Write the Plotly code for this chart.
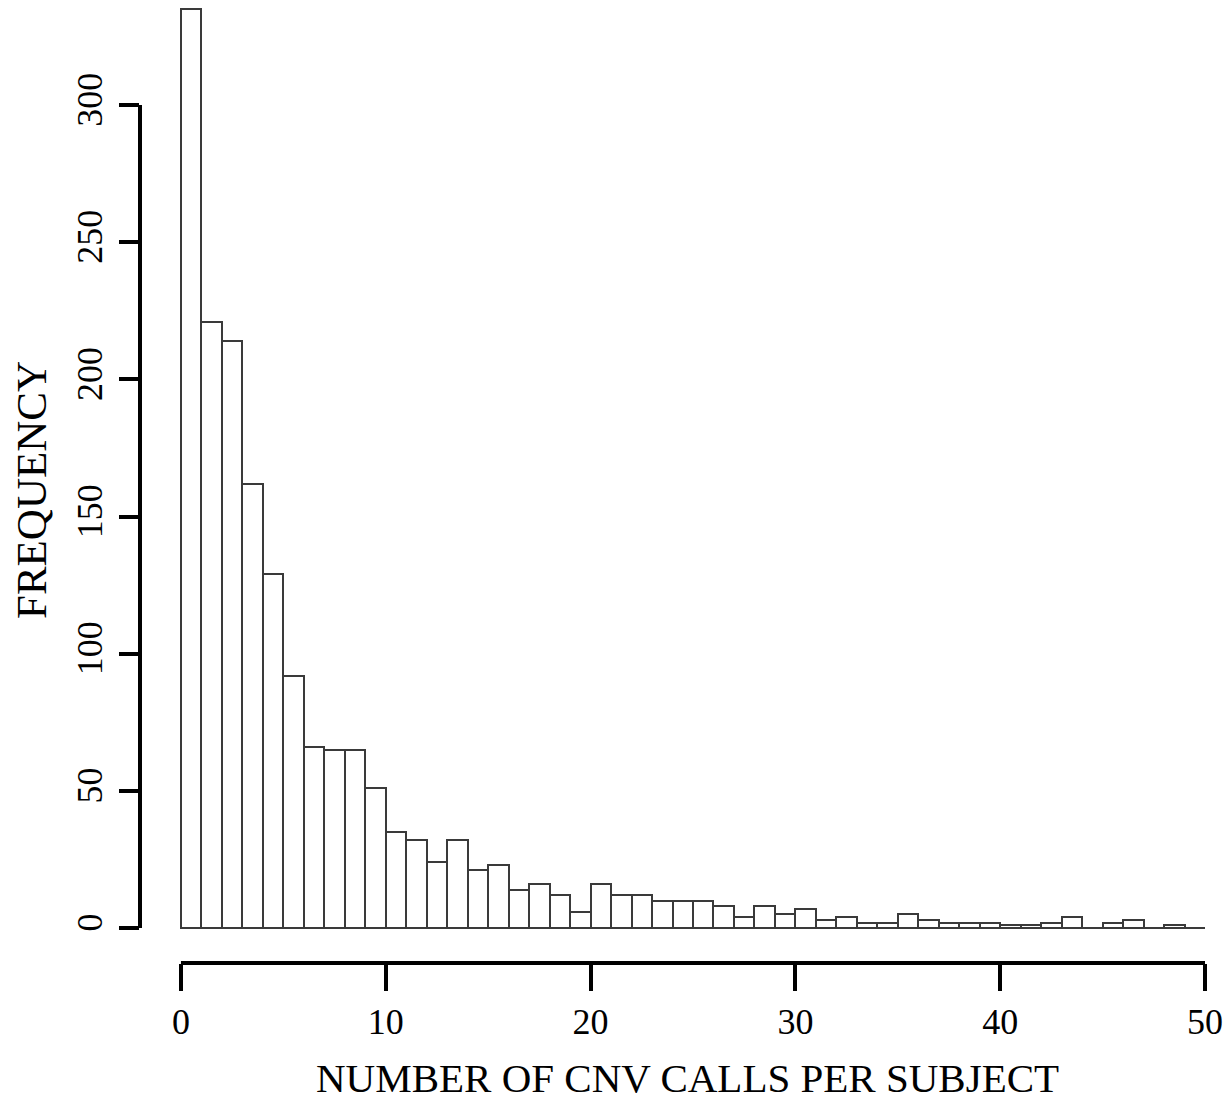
import plotly.graph_objects as go

# Histogram: number of CNV calls per subject (bins of width 1, from 0 to 50)
bin_starts = list(range(50))
counts = [335, 221, 214, 162, 129, 92, 66, 65, 65, 51,
          35, 32, 24, 32, 21, 23, 14, 16, 12, 6,
          16, 12, 12, 10, 10, 10, 8, 4, 8, 5,
          7, 3, 4, 2, 2, 5, 3, 2, 2, 2,
          1, 1, 2, 4, 0, 2, 3, 0, 1, 0]
x_ticks = [0, 10, 20, 30, 40, 50]
y_ticks = [0, 50, 100, 150, 200, 250, 300]

FONT = "Liberation Serif"

fig = go.Figure()
fig.add_trace(go.Bar(
    x=bin_starts, y=counts, width=1, offset=0,
    marker=dict(color="white", line=dict(color="#3a3a3a", width=2)),
    cliponaxis=False,
    hoverinfo="x+y", showlegend=False,
))

# zero line along the bottom of the bars
fig.add_shape(type="line", xref="x", yref="y", x0=0, x1=50.5, y0=0, y1=0,
              line=dict(color="#777777", width=2), layer="below")
# y axis line (only spanning 0..300)
fig.add_shape(type="line", xref="paper", yref="y", x0=0, x1=0, y0=0, y1=300,
              line=dict(color="black", width=4))
# x axis line (only spanning 0..50)
fig.add_shape(type="line", xref="x", yref="paper", x0=0, x1=50, y0=0, y1=0,
              line=dict(color="black", width=4))

fig.update_layout(
    width=1224, height=1093,
    margin=dict(l=132, r=27, t=0, b=138),
    plot_bgcolor="white", paper_bgcolor="white",
    bargap=0,
    font=dict(family=FONT, color="black"),
    xaxis=dict(range=[-2, 50], tickmode="array", tickvals=x_ticks,
               ticks="outside", ticklen=27, tickwidth=4, tickcolor="black",
               showgrid=False, zeroline=False, showline=False,
               tickfont=dict(family=FONT, size=36), ticklabelstandoff=0),
    yaxis=dict(range=[-12.76, 335.4], tickmode="array", tickvals=y_ticks,
               ticks="outside", ticklen=20, tickwidth=4, tickcolor="black",
               tickangle=-90,
               showgrid=False, zeroline=False, showline=False,
               tickfont=dict(family=FONT, size=36), ticklabelstandoff=3),
    annotations=[
        dict(text="FREQUENCY", xref="paper", yref="paper",
             x=-0.1014, y=0.4953, xanchor="center", yanchor="middle",
             textangle=-90, showarrow=False,
             font=dict(family=FONT, size=43, color="black")),
        dict(text="NUMBER OF CNV CALLS PER SUBJECT", xref="paper", yref="paper",
             x=0.514, y=-0.1204, xanchor="center", yanchor="middle",
             showarrow=False,
             font=dict(family=FONT, size=41, color="black")),
    ],
)

fig.write_html("out.html")
